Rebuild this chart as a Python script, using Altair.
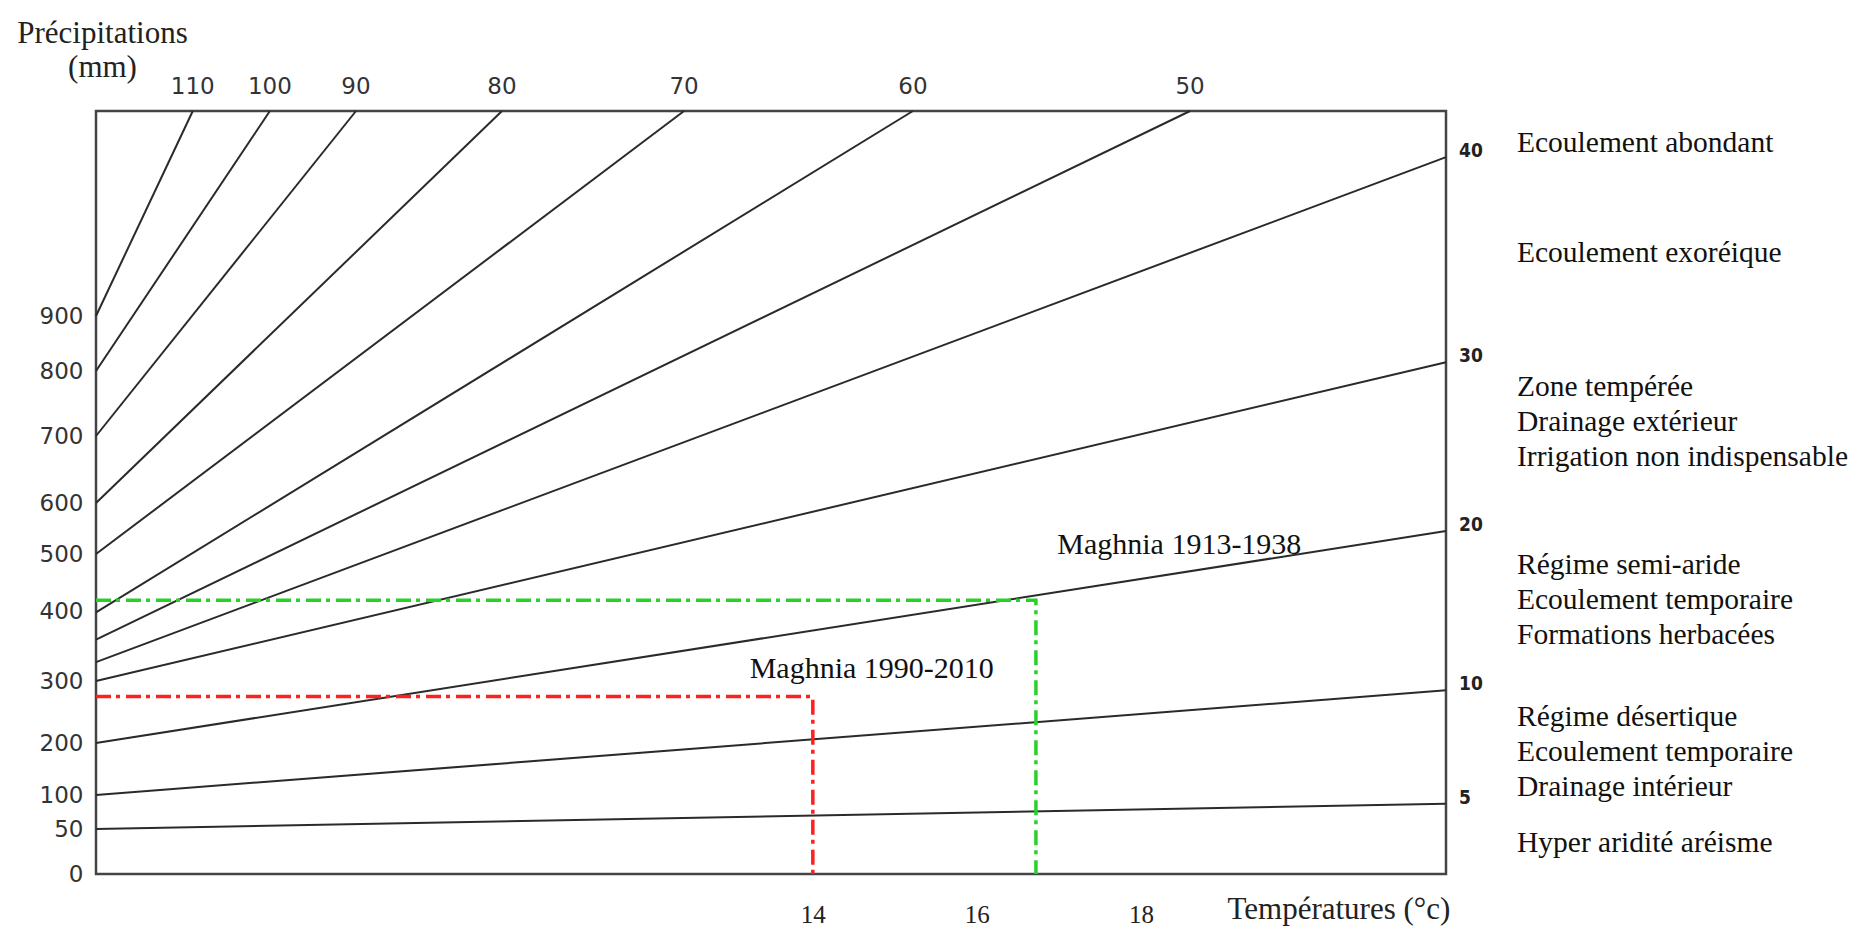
import altair as alt
import pandas as pd

# ---- data -----------------------------------------------------------------
T_MIN, T_MAX = 5.26, 21.72          # temperature at left / right frame
P_TOP = 1260                         # precipitation at top frame

index_values = [5, 10, 20, 30, 40, 50, 60, 70, 80, 90, 100, 110]
start_P = [50, 100, 200, 300, 327, 359, 398, 500, 600, 700, 800, 900]
end_T = [T_MAX, T_MAX, T_MAX, T_MAX, T_MAX, 18.60, 15.22, 12.43, 10.21, 8.43, 7.38, 6.44]
end_P = [87, 285, 545, 816, 1179, P_TOP, P_TOP, P_TOP, P_TOP, P_TOP, P_TOP, P_TOP]

y_ticks = [0, 50, 100, 200, 300, 400, 500, 600, 700, 800, 900]
x_ticks = [14, 16, 18]

stations = ["Maghnia 1913-1938", "Maghnia 1990-2010"]
station_T = [16.72, 14.0]
station_P = [419, 275]
station_label_T = [16.98, 13.23]
station_label_P = [518, 317]

zone_texts = [
    ["Ecoulement abondant"],
    ["Ecoulement exoréique"],
    ["Zone tempérée", "Drainage extérieur", "Irrigation non indispensable"],
    ["Régime semi-aride", "Ecoulement temporaire", "Formations herbacées"],
    ["Régime désertique", "Ecoulement temporaire", "Drainage intérieur"],
    ["Hyper aridité aréisme"],
]
zone_P = [1204, 1011, 775, 481, 242, 34]   # precipitation level of each block's first line

# ---- tables ---------------------------------------------------------------
rows = []
for i, sp, et, ep in zip(index_values, start_P, end_T, end_P):
    rows.append({"I": i, "T": T_MIN, "P": sp, "o": 0})
    rows.append({"I": i, "T": et, "P": ep, "o": 1})
lines_df = pd.DataFrame(rows)

ends_df = pd.DataFrame({"I": index_values, "T": end_T, "P": end_P,
                        "lab": [str(v) for v in index_values]})
top_df = ends_df[ends_df["P"] == P_TOP]
right_df = ends_df[ends_df["P"] != P_TOP]

ref_rows = []
for s, t, p in zip(stations, station_T, station_P):
    ref_rows += [{"s": s, "T": T_MIN, "P": p, "o": 0},
                 {"s": s, "T": t, "P": p, "o": 1},
                 {"s": s, "T": t, "P": 0, "o": 2}]
ref_df = pd.DataFrame(ref_rows)

st_df = pd.DataFrame({"s": stations, "T": station_label_T, "P": station_label_P})
zone_df = pd.DataFrame({"txt": zone_texts, "P": zone_P, "T": [T_MAX] * len(zone_P)})
frame_df = pd.DataFrame({"T": [T_MIN], "T2": [T_MAX], "P": [0], "P2": [P_TOP]})

# ---- scales ---------------------------------------------------------------
W, H = 1350, 763
x_scale = alt.Scale(domain=[T_MIN, T_MAX], nice=False, zero=False)
y_scale = alt.Scale(
    domain=[0, 50, 100, 200, 300, 400, 500, 600, 700, 800, 900, P_TOP],
    range=[763, 718, 684, 632, 570, 500, 443, 392, 325, 260, 205, 0],
    nice=False, zero=False)

x_enc = alt.X("T:Q", scale=x_scale,
              axis=alt.Axis(values=x_ticks, format="d", ticks=False, domain=False, grid=False,
                            labelFont="Liberation Serif", labelFontSize=25,
                            labelColor="#222", labelPadding=28,
                            title="Températures (°c)", titleFont="Liberation Serif",
                            titleFontSize=31, titleFontWeight="normal", titleColor="#222",
                            titleAnchor="start", titleAlign="left", titleBaseline="middle",
                            titleX=1131, titleY=35))
y_enc = alt.Y("P:Q", scale=y_scale,
              axis=alt.Axis(values=y_ticks, ticks=False, domain=False, grid=False,
                            labelFont="DejaVu Sans", labelFontSize=23,
                            labelColor="#333", labelPadding=13,
                            title=["Précipitations", "(mm)"], titleAngle=0,
                            titleFont="Liberation Serif", titleFontSize=31,
                            titleFontWeight="normal", titleColor="#222",
                            titleAlign="center", titleBaseline="top",
                            titleLineHeight=34, titleX=6, titleY=-93))

frame = alt.Chart(frame_df).mark_rect(fill=None, fillOpacity=0, stroke="#444",
                                      strokeWidth=2.5).encode(
    x=x_enc, x2="T2:Q", y=y_enc, y2="P2:Q")

base_lines = alt.Chart(lines_df).mark_line(color="#2a2a2a", strokeWidth=2).encode(
    x=alt.X("T:Q", scale=x_scale), y=alt.Y("P:Q", scale=y_scale),
    detail="I:N", order="o:Q")

ref_lines = alt.Chart(ref_df).mark_line(strokeWidth=3.5, strokeDash=[15, 5, 4, 6]).encode(
    x=alt.X("T:Q", scale=x_scale), y=alt.Y("P:Q", scale=y_scale),
    color=alt.Color("s:N", scale=alt.Scale(domain=stations, range=["#2ad02a", "#ff1f1f"]),
                    legend=None),
    order="o:Q")

top_labels = alt.Chart(top_df).mark_text(
    font="DejaVu Sans", fontSize=23, color="#333", dy=-24, baseline="middle").encode(
    x=alt.X("T:Q", scale=x_scale), y=alt.Y("P:Q", scale=y_scale), text="lab:N")

right_labels = alt.Chart(right_df).mark_text(
    font="DejaVu Sans Condensed", fontWeight="bold", fontSize=19, color="#222",
    align="left", dx=13, dy=-6, baseline="middle").encode(
    x=alt.X("T:Q", scale=x_scale), y=alt.Y("P:Q", scale=y_scale), text="lab:N")

station_labels = alt.Chart(st_df).mark_text(
    font="Liberation Serif", fontSize=30, color="#111", align="left", baseline="middle").encode(
    x=alt.X("T:Q", scale=x_scale), y=alt.Y("P:Q", scale=y_scale), text="s:N")

zone_labels = alt.Chart(zone_df).mark_text(
    font="Liberation Serif", fontSize=29.5, color="#111", align="left", baseline="middle",
    dx=71, lineHeight=35).encode(
    x=alt.X("T:Q", scale=x_scale), y=alt.Y("P:Q", scale=y_scale), text="txt")

chart = alt.layer(frame, base_lines, ref_lines, top_labels, right_labels, station_labels,
                  zone_labels).properties(
    width=W, height=H,
    background="white",
    autosize=alt.AutoSizeParams(type="none"),
    padding={"left": 88, "top": 103, "right": 406, "bottom": 54},
).configure_view(stroke=None)

chart.save("out.html", embed_options={"renderer": "svg", "actions": False})
